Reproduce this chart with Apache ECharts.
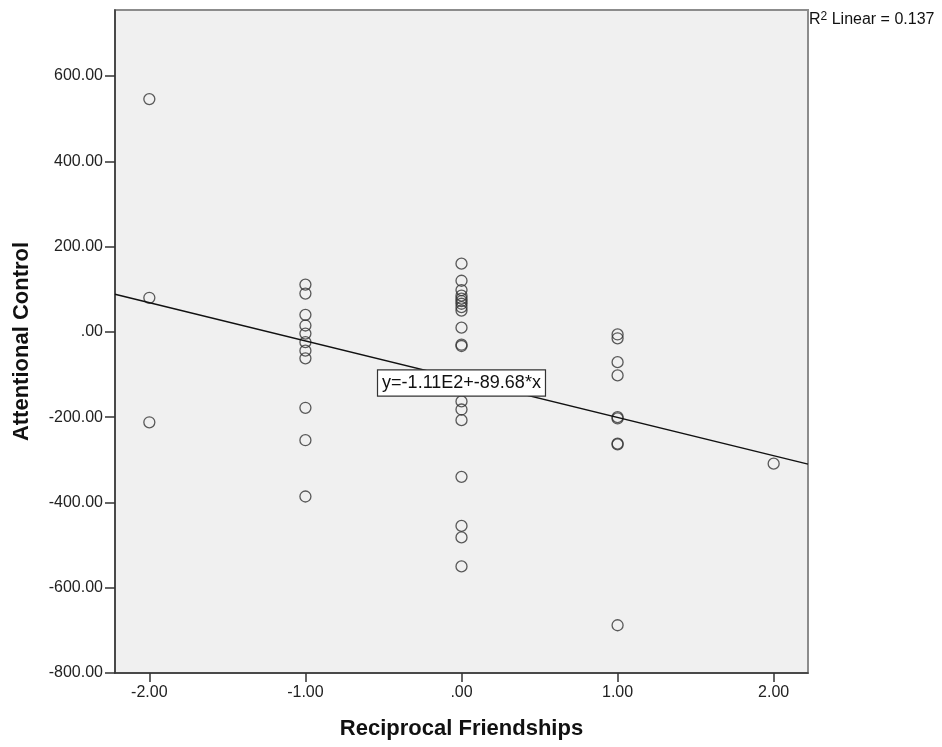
<!DOCTYPE html>
<html>
<head>
<meta charset="utf-8">
<script src="https://cdn.jsdelivr.net/npm/echarts@6/dist/echarts.min.js"></script>
<style>
html,body{margin:0;padding:0;background:#fff;}
#chart{width:942px;height:747px;}
</style>
</head>
<body>
<div id="chart"></div>
<script>
// Reciprocal Friendships (x) and Attentional Control (y)
const xValues = [
  -2, -2, -2,
  -1, -1, -1, -1, -1, -1, -1, -1, -1, -1, -1,
  0, 0, 0, 0, 0, 0, 0, 0, 0, 0, 0, 0, 0, 0, 0, 0, 0, 0, 0,
  1, 1, 1, 1, 1, 1, 1, 1, 1,
  2
];
const yValues = [
  546, 80, -212,
  111, 90, 40, 15, -4, -24, -44, -62, -178, -254, -386,
  160, 120, 98, 85, 78, 72, 66, 58, 50, 10, -30, -33, -163, -182, -207, -340, -455, -482, -550,
  -6, -15, -71, -102, -200, -203, -262, -264, -688,
  -309
];
const xTicks = [-2, -1, 0, 1, 2];
const yTicks = [-800, -600, -400, -200, 0, 200, 400, 600];
const xRange = [-2.22, 2.22];
const yRange = [-800, 755];
const fitIntercept = -111;
const fitSlope = -89.68;
const fitLabel = 'y=-1.11E2+-89.68*x';
const r2Value = '0.137';

const points = xValues.map((x, i) => [x, yValues[i]]);
const fitLine = xRange.map(x => [x, fitIntercept + fitSlope * x]);
const fmt = v => {
  if (v === 0) return '.00';
  return v.toFixed(2);
};

const chart = echarts.init(document.getElementById('chart'), null, {renderer: 'canvas'});
const font = '"Liberation Sans", Arial, sans-serif';
chart.setOption({
  animation: false,
  backgroundColor: '#ffffff',
  textStyle: {fontFamily: font},
  grid: {
    left: 115, top: 10, right: 134, bottom: 74,
    show: true, backgroundColor: '#f0f0f0',
    borderColor: '#8c8c8c', borderWidth: 2
  },
  xAxis: {
    type: 'value', min: xRange[0], max: xRange[1],
    name: 'Reciprocal Friendships', nameLocation: 'middle', nameGap: 45,
    nameTextStyle: {fontFamily: font, fontSize: 22, fontWeight: 'bold', color: '#111'},
    splitLine: {show: false},
    axisLine: {show: true, onZero: false, lineStyle: {color: '#333', width: 1.5}},
    axisTick: {show: true, length: 9, lineStyle: {color: '#333', width: 1.5}, customValues: xTicks},
    axisLabel: {show: true, margin: 12, fontSize: 16, color: '#222', fontFamily: font,
      customValues: xTicks, formatter: fmt}
  },
  yAxis: {
    type: 'value', min: yRange[0], max: yRange[1],
    name: 'Attentional Control', nameLocation: 'middle', nameGap: 82,
    nameTextStyle: {fontFamily: font, fontSize: 22, fontWeight: 'bold', color: '#111'},
    splitLine: {show: false},
    axisLine: {show: true, onZero: false, lineStyle: {color: '#333', width: 1.5}},
    axisTick: {show: true, length: 10, lineStyle: {color: '#333', width: 1.5}, customValues: yTicks},
    axisLabel: {show: true, margin: 12, fontSize: 16, color: '#222', fontFamily: font,
      customValues: yTicks, formatter: fmt}
  },
  series: [
    {
      type: 'line', data: fitLine, showSymbol: false, symbol: 'none',
      lineStyle: {color: '#111', width: 1.5}, z: 3, silent: true,
      markPoint: {
        symbol: 'rect', symbolSize: 1, itemStyle: {color: 'rgba(0,0,0,0)'},
        data: [{coord: [0, -120], value: fitLabel}],
        label: {
          show: true, position: 'inside', formatter: fitLabel,
          fontFamily: font, fontSize: 18, color: '#111',
          backgroundColor: '#fff', borderColor: '#333', borderWidth: 1.2,
          padding: [4, 4, 3, 4]
        }
      }
    },
    {
      type: 'scatter', data: points, symbol: 'circle', symbolSize: 11,
      itemStyle: {color: 'rgba(0,0,0,0)', borderColor: '#333', borderWidth: 1.3},
      z: 2
    }
  ],
  graphic: [{
    type: 'text', left: 809, top: 11,
    style: {
      text: '{a|R}{b|2}{a| Linear = ' + r2Value + '}',
      rich: {
        a: {fontFamily: font, fontSize: 16, fill: '#111'},
        b: {fontFamily: font, fontSize: 12, fill: '#111', verticalAlign: 'top', padding: [0, 0, 6, 0]}
      }
    }
  }]
});
</script>
</body>
</html>
